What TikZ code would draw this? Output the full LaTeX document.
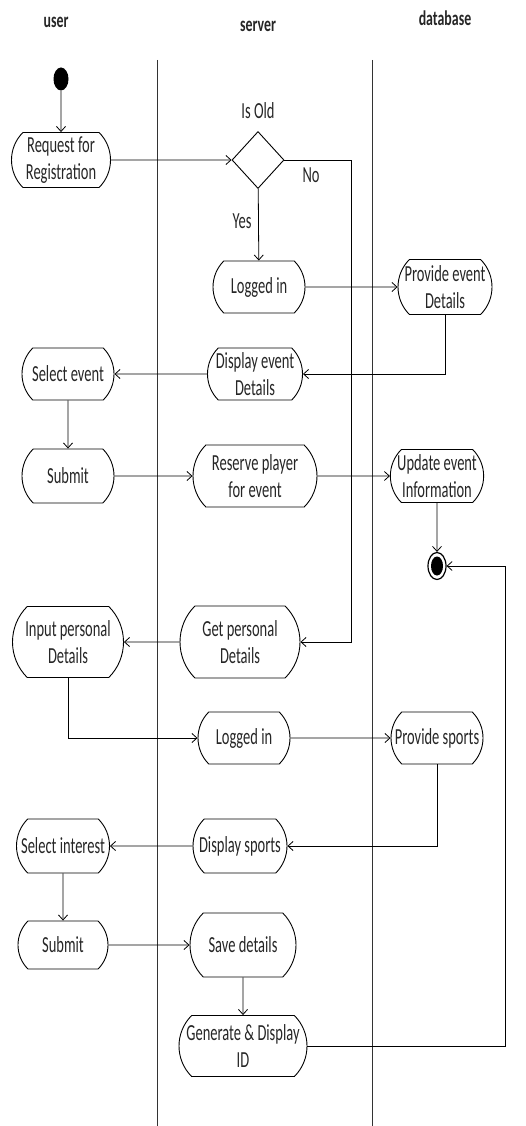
\documentclass[tikz,border=0pt]{standalone}
\usepackage{fontspec}
\newfontfamily\calfont[FakeStretch=0.63]{Carlito}
\newfontfamily\hdrfont[FakeStretch=0.66]{Carlito}
\usetikzlibrary{shapes.misc,shapes.geometric,arrows.meta}
\begin{document}
\begin{tikzpicture}[x=1pt,y=-1pt,
  every node/.style={font=\calfont\fontsize{23}{27}\selectfont, text=black!85},
  act/.style={rounded rectangle, rounded rectangle arc length=90, draw, line width=0.9pt, inner sep=0pt, align=center},
  lane/.style={line width=0.9pt, black!80},
  flow/.style={line width=0.8pt, -{Straight Barb[length=5pt,width=9pt]}},
  hdr/.style={font=\hdrfont\bfseries\fontsize{21}{25}\selectfont}]
\useasboundingbox (0,0) rectangle (526,1126);
% headers
\node[hdr] (huser) at (56,22) {user};
\node[hdr] (hserver) at (258,26) {server};
\node[hdr] (hdb) at (445,18) {database};
% lanes
\coordinate (l1t) at (157,60); \coordinate (l1b) at (157,1126);
\coordinate (l2t) at (372,60); \coordinate (l2b) at (372,1126);
\draw[lane] (l1t) -- (l1b);
\draw[lane] (l2t) -- (l2b);
% start / end
\node[ellipse, fill=black, inner sep=0pt, minimum width=15pt, minimum height=23pt] (start) at (61,79) {};
\node[ellipse, draw, line width=1.2pt, inner sep=0pt, minimum width=18pt, minimum height=27pt] (endn) at (437,566) {};
\node[ellipse, fill=black, inner sep=0pt, minimum width=12pt, minimum height=19pt] (endi) at (437,566) {};
% activities
\node[act, minimum width=99pt, minimum height=55pt] (req) at (61,160) {Request for\\Registration};
\node[diamond, draw, line width=0.9pt, inner sep=0pt, minimum width=52pt, minimum height=57pt] (dia) at (258,160) {};
\node (isold) at (258,111) {Is Old};
\node (yes) at (242,221) {Yes};
\node (no) at (311,175) {No};
\node[act, minimum width=92pt, minimum height=52pt] (li1) at (259,287) {Logged in};
\node[act, minimum width=93pt, minimum height=55pt] (ped) at (445,287) {Provide event\\Details};
\node[act, minimum width=95pt, minimum height=52pt] (ded) at (255,374) {Display event\\Details};
\node[act, minimum width=92pt, minimum height=52pt] (sel) at (68,374) {Select event};
\node[act, minimum width=92pt, minimum height=54pt] (sub1) at (68,476) {Submit};
\node[act, minimum width=124pt, minimum height=62pt] (res) at (255,476) {Reserve player\\for event};
\node[act, minimum width=92pt, minimum height=53pt] (upd) at (437,476) {Update event\\Information};
\node[act, minimum width=120pt, minimum height=72pt] (get) at (240,642) {Get personal\\Details};
\node[act, minimum width=111pt, minimum height=71pt] (ipd) at (68,642) {Input personal\\Details};
\node[act, minimum width=92pt, minimum height=52pt] (li2) at (244,738) {Logged in};
\node[act, minimum width=92pt, minimum height=52pt] (ps) at (437,738) {Provide sports};
\node[act, minimum width=94pt, minimum height=54pt] (ds) at (240,846) {Display sports};
\node[act, minimum width=93pt, minimum height=54pt] (si) at (63,846) {Select interest};
\node[act, minimum width=90pt, minimum height=48pt] (sub2) at (63,945) {Submit};
\node[act, minimum width=106pt, minimum height=64pt] (save) at (243,945) {Save details};
\node[act, minimum width=128pt, minimum height=61pt] (gen) at (243,1046) {Generate \& Display\\ID};
% connectors
\coordinate (nocorner) at (351,160);
\coordinate (gencorner) at (505,1046);
\draw[flow] (start) -- (req);
\draw[flow] (req) -- (dia);
\draw[flow] (dia) -- (li1);
\draw[flow] (dia.east) -- (nocorner) |- (get.east);
\draw[flow] (li1) -- (ped);
\draw[flow] (ped.south) |- (ded.east);
\draw[flow] (ded) -- (sel);
\draw[flow] (sel) -- (sub1);
\draw[flow] (sub1) -- (res);
\draw[flow] (res) -- (upd);
\draw[flow] (upd) -- (endn);
\draw[flow] (get) -- (ipd);
\draw[flow] (ipd.south) |- (li2.west);
\draw[flow] (li2) -- (ps);
\draw[flow] (ps.south) |- (ds.east);
\draw[flow] (ds) -- (si);
\draw[flow] (si) -- (sub2);
\draw[flow] (sub2) -- (save);
\draw[flow] (save) -- (gen);
\draw[flow] (gen.east) -- (gencorner) |- (endn.east);
\end{tikzpicture}
\end{document}
